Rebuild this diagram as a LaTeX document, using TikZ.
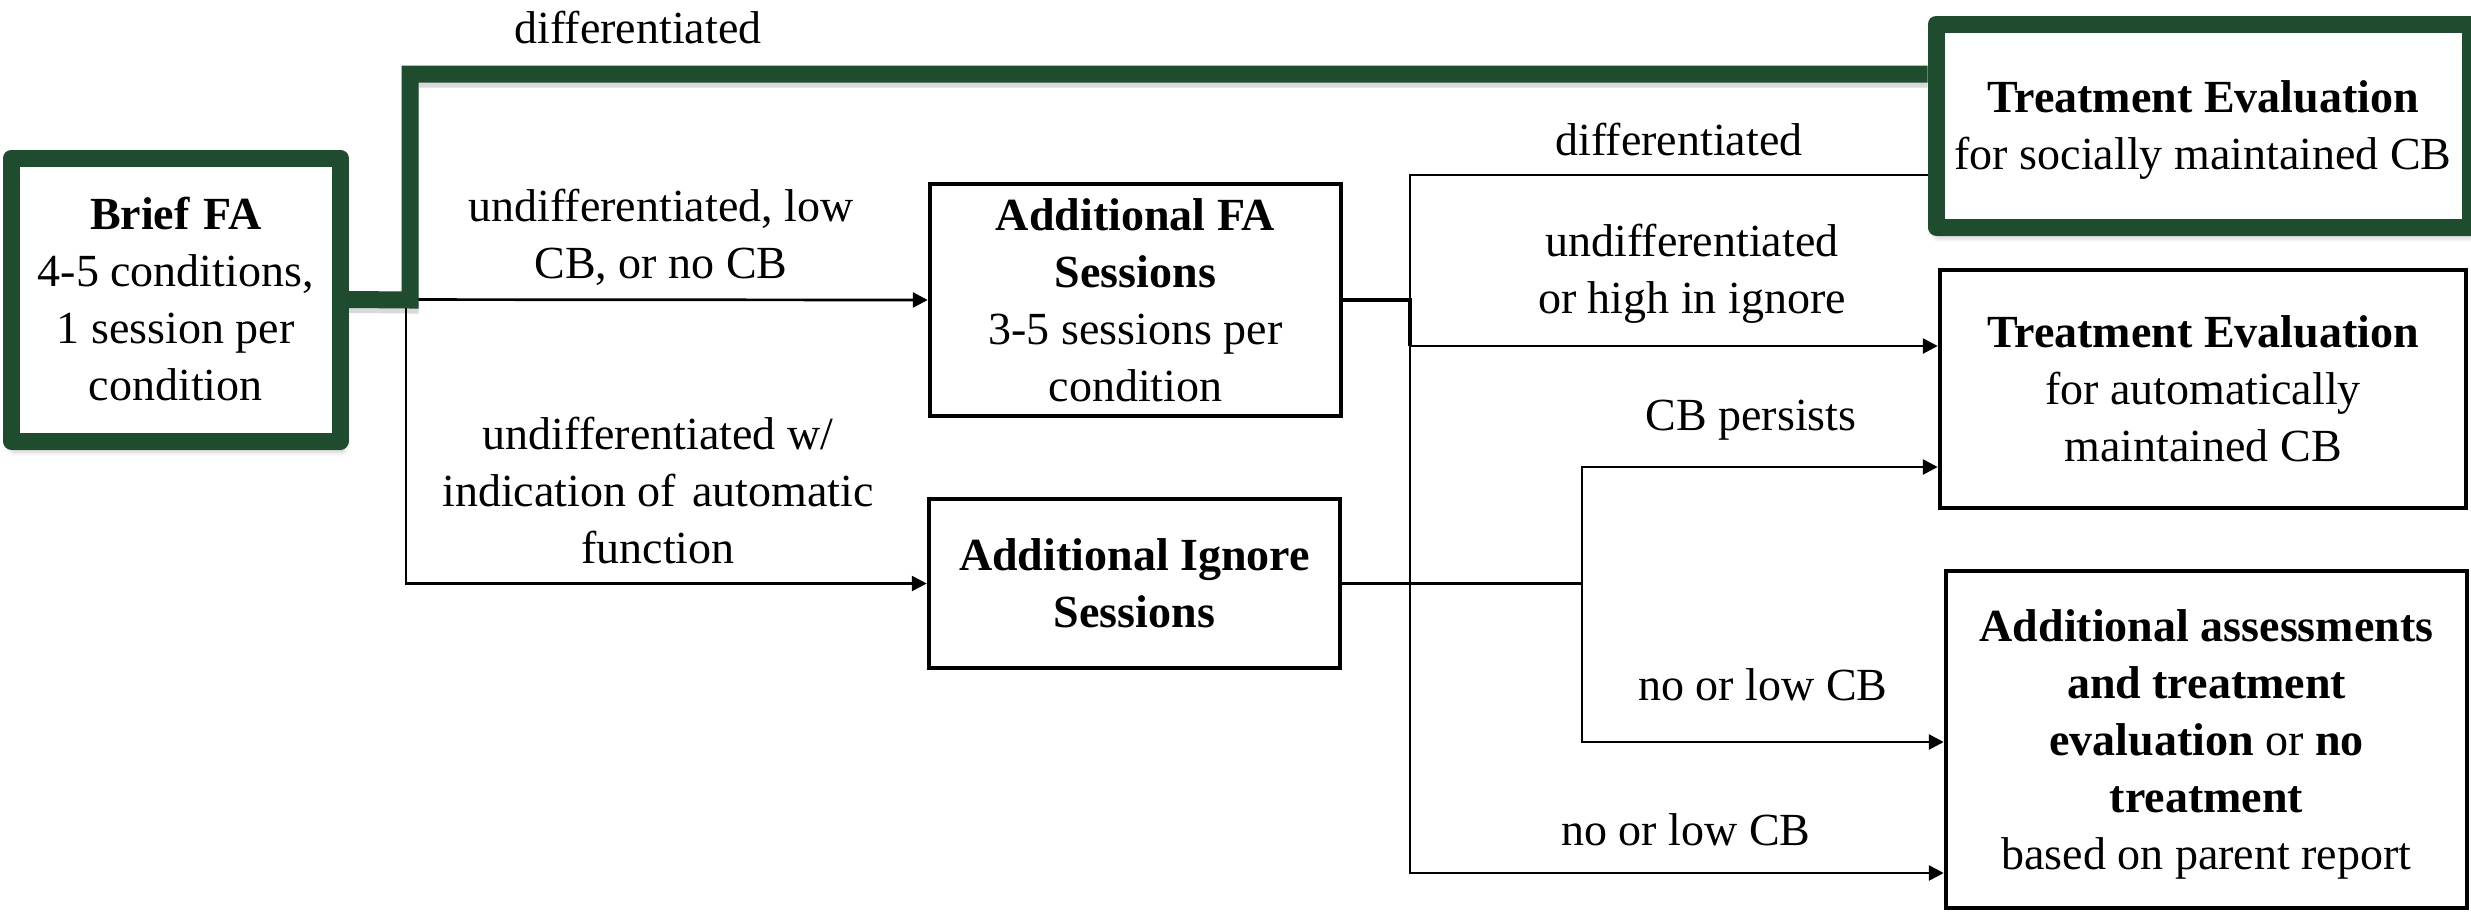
\documentclass[tikz,border=0pt]{standalone}
\usepackage{fontspec}
\setmainfont{Liberation Serif}
\usetikzlibrary{arrows.meta,shadows.blur}
\definecolor{fagreen}{RGB}{31,75,46}
\begin{document}
\begin{tikzpicture}[x=1pt,y=-1pt,
  txt/.style={font=\fontsize{46}{57}\selectfont, align=center, inner sep=0pt},
  lbl/.style={txt, anchor=base},
  plainbox/.style={txt, draw, line width=4.5pt, fill=white},
  greenbox/.style={txt, draw=fagreen, line width=17pt, fill=white, line join=round,
    blur shadow={shadow xshift=2pt, shadow yshift=-9pt, shadow blur radius=6pt, shadow opacity=35}},
  greenline/.style={draw=fagreen, line width=17pt, line join=miter,
    preaction={draw=black, draw opacity=0.15, line width=17pt, transform canvas={yshift=-5pt}}},
  wire/.style={line width=2.7pt},
  wirebold/.style={line width=3.7pt},
  arr/.style={-{Triangle[length=15pt,width=15pt]}}
]
\useasboundingbox (0,0) rectangle (2471,911);

% boxes
\node[greenbox, minimum width=329pt, minimum height=283pt] (brief) at (175.75,299.5)
  {\textbf{Brief\hspace{0.3em}FA}\\4-5 conditions,\\1 session per\\condition};
\node[plainbox, minimum width=411pt, minimum height=232pt] (fa) at (1135.5,300)
  {\textbf{Additional FA}\\\textbf{Sessions}\\3-5 sessions per\\condition};
\node[plainbox, minimum width=411pt, minimum height=169pt] (ign) at (1134.5,583.5)
  {\textbf{Additional Ignore}\\\textbf{Sessions}};
\node[greenbox, text depth=0pt, minimum width=534pt, minimum height=203pt] (soc) at (2203,125.5)
  {\textbf{Treatment Evaluation}\\for socially maintained CB};
\node[plainbox, minimum width=526pt, minimum height=238pt] (aut) at (2203,389)
  {\textbf{Treatment Evaluation}\\for automatically\\maintained CB};
\node[plainbox, text depth=0pt, minimum width=521pt, minimum height=337pt] (bot) at (2206.5,739.5)
  {\textbf{Additional assessments}\\\textbf{and treatment}\\\textbf{evaluation} or \textbf{no}\\\textbf{treatment}\\based on parent report};

% branch points
\coordinate (bSplit) at (406,300);
\coordinate (gA) at (410,300);
\coordinate (gB) at (410,74);
\coordinate (fSplit) at (1410,300);
\coordinate (fUp) at (1410,175);
\coordinate (fMid) at (1410,346);
\coordinate (fLow) at (1410,873);
\coordinate (iSplit) at (1582,583.5);
\coordinate (iUp) at (1582,467);
\coordinate (iLow) at (1582,742);

% connectors from the brief FA
\draw[wire, arr] (brief.east) -- (fa.west);
\draw[wire, arr] (bSplit) |- (ign.west);
\draw[greenline] (brief.east) -- (gA) -- (gB) -- (gB -| soc.west);

% connectors from the additional FA sessions
\draw[wirebold] (fa.east) -- (fSplit) -- (fMid);
\draw[wire] (fSplit) -- (fUp) -- (fUp -| soc.west);
\draw[wire, arr] (fMid) -- (fMid -| aut.west);
\draw[wire, arr] (fMid) -- (fLow) -- (fLow -| bot.west);

% connectors from the additional ignore sessions
\draw[wirebold] (ign.east) -- (iSplit);
\draw[wire, arr] (iSplit) -- (iUp) -- (iUp -| aut.west);
\draw[wire, arr] (iSplit) -- (iLow) -- (iLow -| bot.west);

% labels (multi-line labels are placed by their last baseline)
\node[lbl] (l1) at (638,43) {differentiated};
\node[lbl] (l2) at (661,278) {undifferentiated, low\\CB, or no CB};
\node[lbl] (l3) at (658,563) {undifferentiated w/\\indication of\hspace{0.35em}automatic\\function};
\node[lbl] (l4) at (1679,155) {differentiated};
\node[lbl] (l5) at (1692,313) {undifferentiated\\or high in ignore};
\node[lbl] (l6) at (1751,430) {CB persists};
\node[lbl] (l7) at (1763,700) {no or low CB};
\node[lbl] (l8) at (1686,845) {no or low CB};
\end{tikzpicture}
\end{document}
